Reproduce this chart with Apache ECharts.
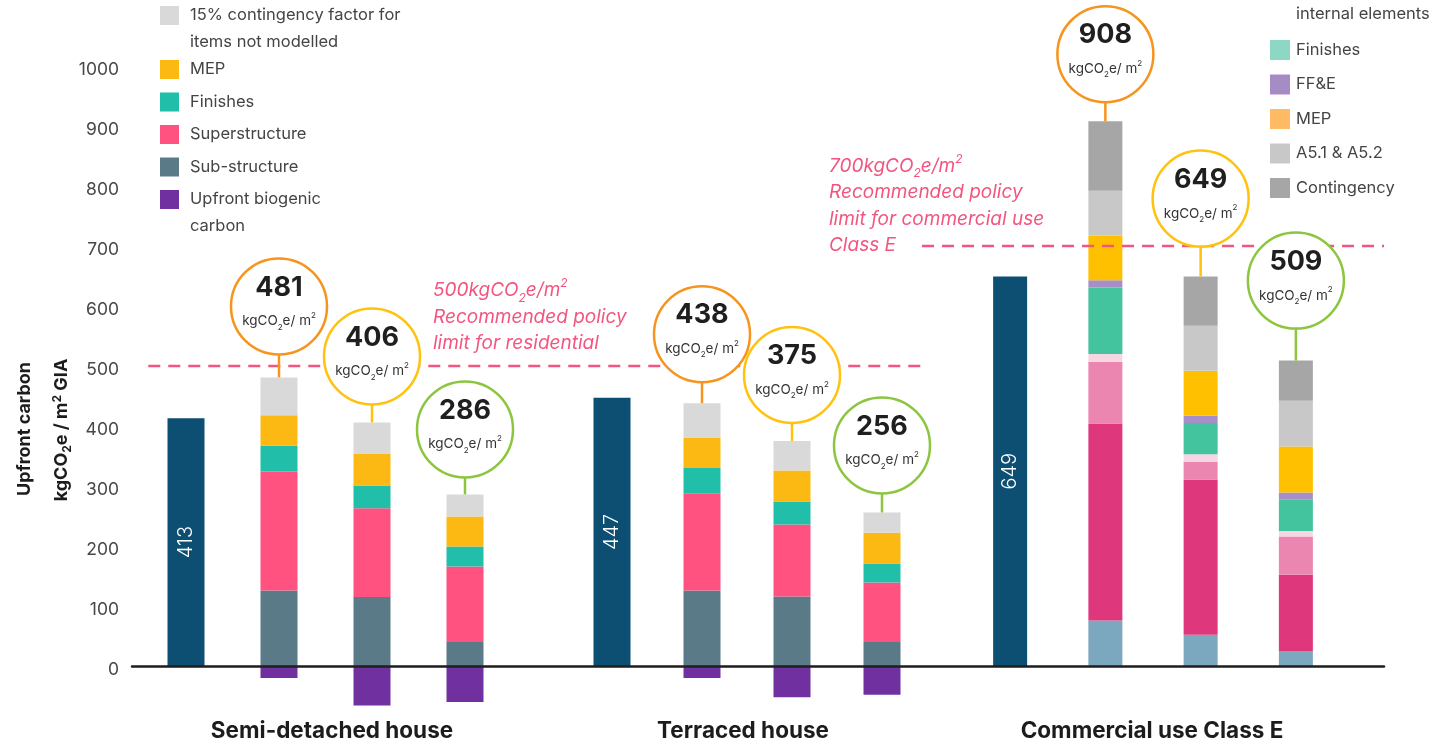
<!DOCTYPE html>
<html>
<head>
<meta charset="utf-8">
<script src="https://cdn.jsdelivr.net/npm/echarts@6/dist/echarts.min.js"></script>
<style>
  html, body { margin: 0; padding: 0; background: #ffffff; }
  #chart { width: 1444px; height: 744px; }
</style>
</head>
<body>
<div id="chart"></div>
<script>
// ---- Data -------------------------------------------------------------
const groupNames = ['Semi-detached house', 'Terraced house', 'Commercial use Class E'];
const barSlots = ['Baseline', 'Option 1', 'Option 2', 'Option 3'];
const yTicks = [0, 100, 200, 300, 400, 500, 600, 700, 800, 900, 1000];

// Single-value baseline bars, one per building type
const baselineTotals = [413, 447, 649];

// Semi-detached house, options 1-3 (kgCO2e/m2 GIA)
const semiSubstructure = [126, 115, 40];
const semiSuperstructure = [198, 148, 126];
const semiFinishes = [43, 38, 33];
const semiMEP = [51, 53, 50];
const semiContingency = [63, 52, 37];
const semiBiogenic = [-20, -66, -60];

// Terraced house, options 1-3
const terrSubstructure = [126, 116, 40];
const terrSuperstructure = [161, 120, 99];
const terrFinishes = [43, 38, 32];
const terrMEP = [51, 52, 51];
const terrContingency = [57, 49, 34];
const terrBiogenic = [-20, -52, -48];

// Commercial use Class E, options 1-3
const comSubstructure = [76, 52, 25];
const comFrame = [328, 259, 127];
const comEnvelope = [103, 29, 64];
const comInternal = [13, 13, 9];
const comFinishes = [111, 52, 52];
const comFFE = [12, 12, 12];
const comMEP = [74, 75, 77];
const comA5 = [75, 75, 76];
const comContingency = [116, 82, 67];

// Policy limits
const residentialLimit = 500;
const commercialLimit = 700;

// Legend labels
const resNames = ['Sub-structure', 'Superstructure', 'Finishes', 'MEP',
  '15% contingency factor for\nitems not modelled', 'Upfront biogenic\ncarbon'];
const comNames = ['Substructure', 'Superstructure frame', 'Superstructure envelope',
  'Superstructure\ninternal elements', 'Finishes', 'FF&E', 'MEP', 'A5.1 & A5.2', 'Contingency'];

// ---- Styling ----------------------------------------------------------
const FONT = 'Inter, "Noto Sans", sans-serif';
const navy = '#0D4F73';
const resColors = ['#5B7A87', '#FF5280', '#21BFAA', '#FDB913', '#D9D9D9', '#7030A0'];
const comColors = ['#7BA7BF', '#DE377C', '#EA86B0', '#F7D6E4', '#43C39E', '#A68FC7', '#FFC000', '#C8C8C8', '#A6A6A6'];
const comLegendColors = ['#7BA7BF', '#DE377C', '#EA86B0', '#F7D6E4', '#8CD8C4', '#A58CC5', '#FFBA66', '#C8C8C8', '#A6A6A6'];
const bubbleColors = ['#F7941D', '#FFC20E', '#8CC63F'];
const limitColor = '#F2557F';

const Y_MIN = -100, Y_MAX = 1000;
const gridTop = 66, gridBottom = 18;

const groupStacks = [
  { segs: [semiSubstructure, semiSuperstructure, semiFinishes, semiMEP, semiContingency], bio: semiBiogenic,
    names: resNames.slice(0, 5), colors: resColors.slice(0, 5), left: 139.5, width: 372, barWidth: 37,
    labelX: 332, gaps: [23, 18, 17] },
  { segs: [terrSubstructure, terrSuperstructure, terrFinishes, terrMEP, terrContingency], bio: terrBiogenic,
    names: resNames.slice(0, 5), colors: resColors.slice(0, 5), left: 567, width: 360, barWidth: 37,
    labelX: 743, gaps: [21, 18, 19] },
  { segs: [comSubstructure, comFrame, comEnvelope, comInternal, comFinishes, comFFE, comMEP, comA5, comContingency], bio: null,
    names: comNames, colors: comColors, left: 962.5, width: 381, barWidth: 39,
    labelX: 1152, gaps: [19, 30, 32] }
];

const grids = [{ left: 132, right: 60, top: gridTop, bottom: gridBottom, containLabel: false, outerBoundsMode: 'none' }];
const xAxes = [{
  gridIndex: 0, type: 'value', min: 0, max: 1, z: 10,
  axisLine: { show: true, onZero: true, lineStyle: { color: '#1e1e1e', width: 2.5 } },
  axisTick: { show: false }, axisLabel: { show: false }, splitLine: { show: false }
}];
const yAxes = [{
  gridIndex: 0, type: 'value', min: Y_MIN, max: Y_MAX, interval: 100,
  axisLine: { show: false }, axisTick: { show: false }, splitLine: { show: false },
  axisLabel: {
    margin: 13,
    formatter: v => (yTicks.indexOf(v) >= 0 ? '{v|' + v + '}' : ''),
    rich: { v: { color: '#474747', fontSize: 17.5, fontFamily: FONT, padding: [8, 0, 0, 0] } }
  }
}];
const series = [];
const graphics = [];

const subRich = (size, color, extra) => ({
  u: Object.assign({ fontSize: size, fill: color, color: color, fontFamily: FONT, lineHeight: size + 6 }, extra || {}),
  s: Object.assign({ fontSize: Math.round(size * 0.62), fill: color, color: color, fontFamily: FONT, lineHeight: size * 0.8, verticalAlign: 'bottom' }, extra || {}),
  p: Object.assign({ fontSize: Math.round(size * 0.62), fill: color, color: color, fontFamily: FONT, lineHeight: size * 0.8, verticalAlign: 'top' }, extra || {})
});

groupStacks.forEach((g, gi) => {
  const idx = gi + 1;
  grids.push({ left: g.left, width: g.width, top: gridTop, bottom: gridBottom, containLabel: false, outerBoundsMode: 'none' });
  xAxes.push({
    gridIndex: idx, type: 'category', data: barSlots,
    axisLine: { show: false, onZero: true }, axisTick: { show: false }, axisLabel: { show: false }
  });
  yAxes.push({ gridIndex: idx, type: 'value', min: Y_MIN, max: Y_MAX, interval: 100, show: false });

  // Group name beneath the baseline
  graphics.push({ type: 'text', x: g.labelX, y: 731,
    style: { text: groupNames[gi], fill: '#1c1c1c', fontSize: 22.5, fontWeight: 700, fontFamily: FONT, align: 'center', verticalAlign: 'middle' } });

  const stack = 'stack' + gi;
  series.push({
    type: 'bar', name: 'Baseline', xAxisIndex: idx, yAxisIndex: idx, stack,
    barWidth: gi === 2 ? 34 : g.barWidth,
    data: [baselineTotals[gi], '-', '-', '-'],
    itemStyle: { color: navy },
    label: { show: true, position: 'inside', rotate: 90, color: '#ffffff', fontSize: 20, fontWeight: 300, fontFamily: FONT },
    z: 2
  });
  g.segs.forEach((arr, si) => {
    series.push({
      type: 'bar', name: g.names[si], xAxisIndex: idx, yAxisIndex: idx, stack,
      barWidth: g.barWidth, data: ['-'].concat(arr),
      itemStyle: { color: g.colors[si] }, z: 2
    });
  });
  if (g.bio) {
    series.push({
      type: 'bar', name: resNames[5], xAxisIndex: idx, yAxisIndex: idx, stack,
      barWidth: g.barWidth, data: ['-'].concat(g.bio),
      itemStyle: { color: resColors[5] }, z: 2
    });
  }

  // Total bubbles above each option bar
  const totals = g.segs[0].map((_, i) => g.segs.reduce((s, arr) => s + arr[i], 0));
  series.push({
    type: 'custom', name: 'Totals', xAxisIndex: idx, yAxisIndex: idx, clip: false, z: 6,
    data: totals.map((t, i) => [i + 1, t, i]),
    renderItem: (params, api) => {
      const k = api.value(2);
      const pt = api.coord([api.value(0), api.value(1)]);
      const x = pt[0], yTop = pt[1];
      const r = 48, gap = g.gaps[k];
      const cy = yTop - gap - r;
      const color = bubbleColors[k];
      return {
        type: 'group',
        children: [
          { type: 'line', shape: { x1: x, y1: yTop - gap - 1, x2: x, y2: yTop }, style: { stroke: color, lineWidth: 2.5 } },
          { type: 'circle', shape: { cx: x, cy: cy, r: r }, style: { fill: '#ffffff', stroke: color, lineWidth: 2.5 } },
          { type: 'text', x: x, y: cy - 19, style: { text: String(api.value(1)), fill: '#1f1f1f', fontSize: 27, fontWeight: 700, fontFamily: FONT, align: 'center', verticalAlign: 'middle' } },
          { type: 'text', x: x, y: cy + 15, style: { text: '{u|kgCO}{s|2}{u|e/ m}{p|2}', rich: subRich(13.5, '#333333'), align: 'center', verticalAlign: 'middle' } }
        ]
      };
    }
  });
});

// Dashed policy-limit lines with their notes
const limitSpans = [[0.013, 0.633], [0.631, 1]];
const limitNotes = [
  { text: '{u|500kgCO}{s|2}{u|e/m}{p|2}\n{u|Recommended policy}\n{u|limit for residential}', dx: 301, dy: -9 },
  { text: '{u|700kgCO}{s|2}{u|e/m}{p|2}\n{u|Recommended policy}\n{u|limit for commercial use}\n{u|Class E}', dx: 697, dy: 13 }
];
series.push({
  type: 'custom', name: 'Policy limits', xAxisIndex: 0, yAxisIndex: 0, clip: false, z: 4,
  data: [[0, residentialLimit, 0], [0, commercialLimit, 1]],
  renderItem: (params, api) => {
    const k = api.value(2);
    const cs = params.coordSys;
    const y = api.coord([0, api.value(1)])[1];
    const span = limitSpans[k];
    const note = limitNotes[k];
    const rich = subRich(19, limitColor, { fontStyle: 'italic' });
    rich.u.lineHeight = 26.5;
    rich.s.lineHeight = 18; rich.p.lineHeight = 18;
    return {
      type: 'group',
      children: [
        { type: 'line', shape: { x1: cs.x + span[0] * cs.width, y1: y, x2: cs.x + span[1] * cs.width, y2: y },
          style: { stroke: limitColor, lineWidth: 2.5, lineDash: [12, 8] } },
        { type: 'text', x: cs.x + note.dx, y: y + note.dy,
          style: { text: note.text, rich: rich, align: 'left', verticalAlign: 'bottom' } }
      ]
    };
  }
});

// ---- Legends and axis title --------------------------------------------
function addLegend(names, colors, x, startY, size, single, double, textGap) {
  let y = startY;
  names.forEach((n, i) => {
    graphics.push({ type: 'rect', left: x, top: y, shape: { width: size, height: size }, style: { fill: colors[i] } });
    graphics.push({ type: 'text', x: x + size + textGap, y: y + size / 2 - 13.5,
      style: { text: n, fill: '#444444', fontSize: 16.5, fontFamily: FONT, lineHeight: 27, align: 'left', verticalAlign: 'top' } });
    y += n.indexOf('\n') >= 0 ? double : single;
  });
}
// Residential legend, top of stack first
const resOrder = [4, 3, 2, 1, 0, 5];
addLegend(resOrder.map(i => resNames[i]), resOrder.map(i => resColors[i]), 160, 6, 19, 32.5, 54, 11);
// Commercial legend
addLegend(comNames, comLegendColors, 1270, 40 - 62.5 - 3 * 34.5, 20, 34.5, 62.5, 6);

// Y-axis title, two rotated lines
const titleRich = {
  b: { fontSize: 18, fontWeight: 700, fontFamily: FONT, fill: '#1c1c1c', color: '#1c1c1c', lineHeight: 22 },
  bs: { fontSize: 12, fontWeight: 700, fontFamily: FONT, fill: '#1c1c1c', color: '#1c1c1c', lineHeight: 16, verticalAlign: 'bottom' },
  bp: { fontSize: 12, fontWeight: 700, fontFamily: FONT, fill: '#1c1c1c', color: '#1c1c1c', lineHeight: 16, verticalAlign: 'top' }
};
graphics.push({ type: 'text', x: 25, y: 429, rotation: Math.PI / 2,
  style: { text: '{b|Upfront carbon}', rich: titleRich, align: 'center', verticalAlign: 'middle' } });
graphics.push({ type: 'text', x: 62, y: 430, rotation: Math.PI / 2,
  style: { text: '{b|kgCO}{bs|2}{b|e / m}{bp|2}{b| GIA}', rich: titleRich, align: 'center', verticalAlign: 'middle' } });

const chart = echarts.init(document.getElementById('chart'), null, { renderer: 'canvas' });
chart.setOption({
  backgroundColor: '#ffffff',
  animation: false,
  grid: grids,
  xAxis: xAxes,
  yAxis: yAxes,
  series: series,
  graphic: graphics
});
</script>
</body>
</html>
